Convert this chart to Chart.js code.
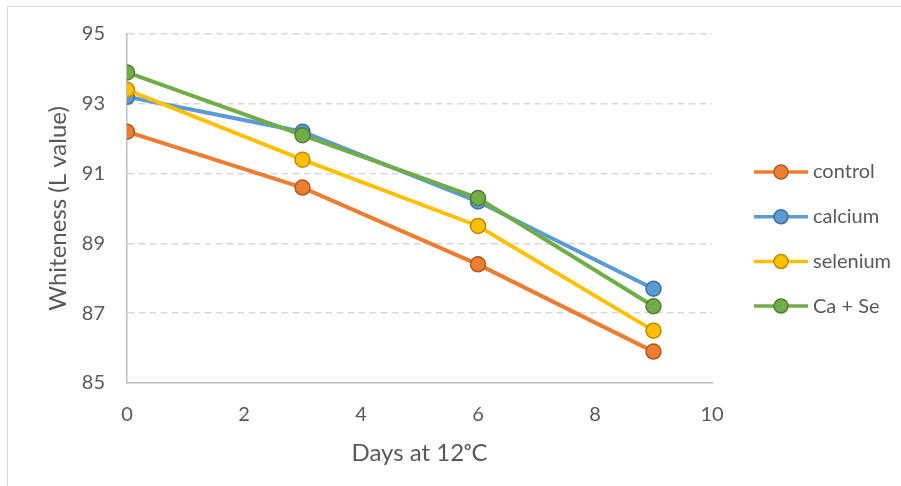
<!DOCTYPE html>
<html>
<head>
<meta charset="utf-8">
<script src="https://cdn.jsdelivr.net/npm/chart.js@4"></script>
<style>
  body { margin: 0; background: #fff; overflow: hidden; }
  #marco { position: absolute; left: 7px; top: 6px; width: 1000px; height: 1000px; border: 1px solid #d9d9d9; }
  #grafico { position: absolute; left: 0; top: 0; }
</style>
</head>
<body>
<div id="marco"></div>
<canvas id="grafico" width="901" height="486"></canvas>
<script>
const dias = [0, 3, 6, 9];
const control = [92.2, 90.6, 88.4, 85.9];
const calcio = [93.2, 92.2, 90.2, 87.7];
const selenio = [93.4, 91.4, 89.5, 86.5];
const caSe = [93.9, 92.1, 90.3, 87.2];
const nombres = ['control', 'calcium', 'selenium', 'Ca + Se'];
const colores = ['#ED7D31', '#5B9BD5', '#FFC000', '#70AD47'];
const bordes = ['#AE5A21', '#41719C', '#BC8C00', '#507E32'];

const gris = '#595959';
const fuente = 'Lato, "Open Sans", sans-serif';

function armarSerie(valores, i) {
  return {
    label: nombres[i],
    data: valores.map((v, k) => ({ x: dias[k], y: v })),
    borderColor: colores[i],
    backgroundColor: colores[i],
    pointBackgroundColor: colores[i],
    pointBorderColor: bordes[i],
    pointBorderWidth: 1.5,
    pointRadius: 7.5,
    borderWidth: 4,
    tension: 0,
    order: 4 - i
  };
}

// leyenda a la derecha, como en Excel
const leyenda = {
  id: 'leyenda',
  afterDraw(chart) {
    const ctx = chart.ctx;
    ctx.save();
    chart.data.datasets.forEach((ds, i) => {
      const y = 172 + i * 44.7;
      ctx.strokeStyle = ds.borderColor;
      ctx.lineWidth = 3.5;
      ctx.beginPath();
      ctx.moveTo(754, y);
      ctx.lineTo(808, y);
      ctx.stroke();
      ctx.beginPath();
      ctx.arc(781, y, 7, 0, Math.PI * 2);
      ctx.fillStyle = ds.pointBackgroundColor;
      ctx.fill();
      ctx.lineWidth = 1.5;
      ctx.strokeStyle = ds.pointBorderColor;
      ctx.stroke();
      ctx.fillStyle = gris;
      ctx.font = '20px ' + fuente;
      ctx.textBaseline = 'middle';
      ctx.textAlign = 'left';
      ctx.fillText(ds.label, 813, y);
    });
    ctx.restore();
  }
};

new Chart(document.getElementById('grafico'), {
  type: 'line',
  data: {
    datasets: [control, calcio, selenio, caSe].map(armarSerie)
  },
  options: {
    responsive: false,
    animation: false,
    devicePixelRatio: 1,
    layout: { padding: { left: 0, top: 32, right: 189, bottom: 0 } },
    plugins: {
      legend: { display: false },
      tooltip: { enabled: false }
    },
    scales: {
      x: {
        type: 'linear',
        min: 0,
        max: 10,
        ticks: { stepSize: 2, padding: 20, color: gris, font: { family: fuente, size: 20 } },
        grid: { display: false, drawTicks: false },
        border: { display: true, color: '#bfbfbf', width: 1.5 },
        title: {
          display: true,
          text: 'Days at 12ᵒC',
          color: gris,
          font: { family: fuente, size: 24 },
          padding: { top: 0, bottom: 18 }
        },
        afterFit: s => { s.height = 103; }
      },
      y: {
        min: 85,
        max: 95,
        ticks: { stepSize: 2, padding: 22, color: gris, font: { family: fuente, size: 20 } },
        grid: {
          drawTicks: false,
          lineWidth: 1.5,
          color: c => (c.tick && c.tick.value === 85) ? 'rgba(0,0,0,0)' : '#d9d9d9'
        },
        border: { display: true, color: '#bfbfbf', width: 1.5, dash: [7, 4] },
        title: {
          display: true,
          text: 'Whiteness (L value)',
          color: gris,
          font: { family: fuente, size: 24 },
          padding: { top: 44, bottom: 0 }
        },
        afterFit: s => { s.width = 127; }
      }
    }
  },
  plugins: [leyenda]
});
</script>
</body>
</html>
